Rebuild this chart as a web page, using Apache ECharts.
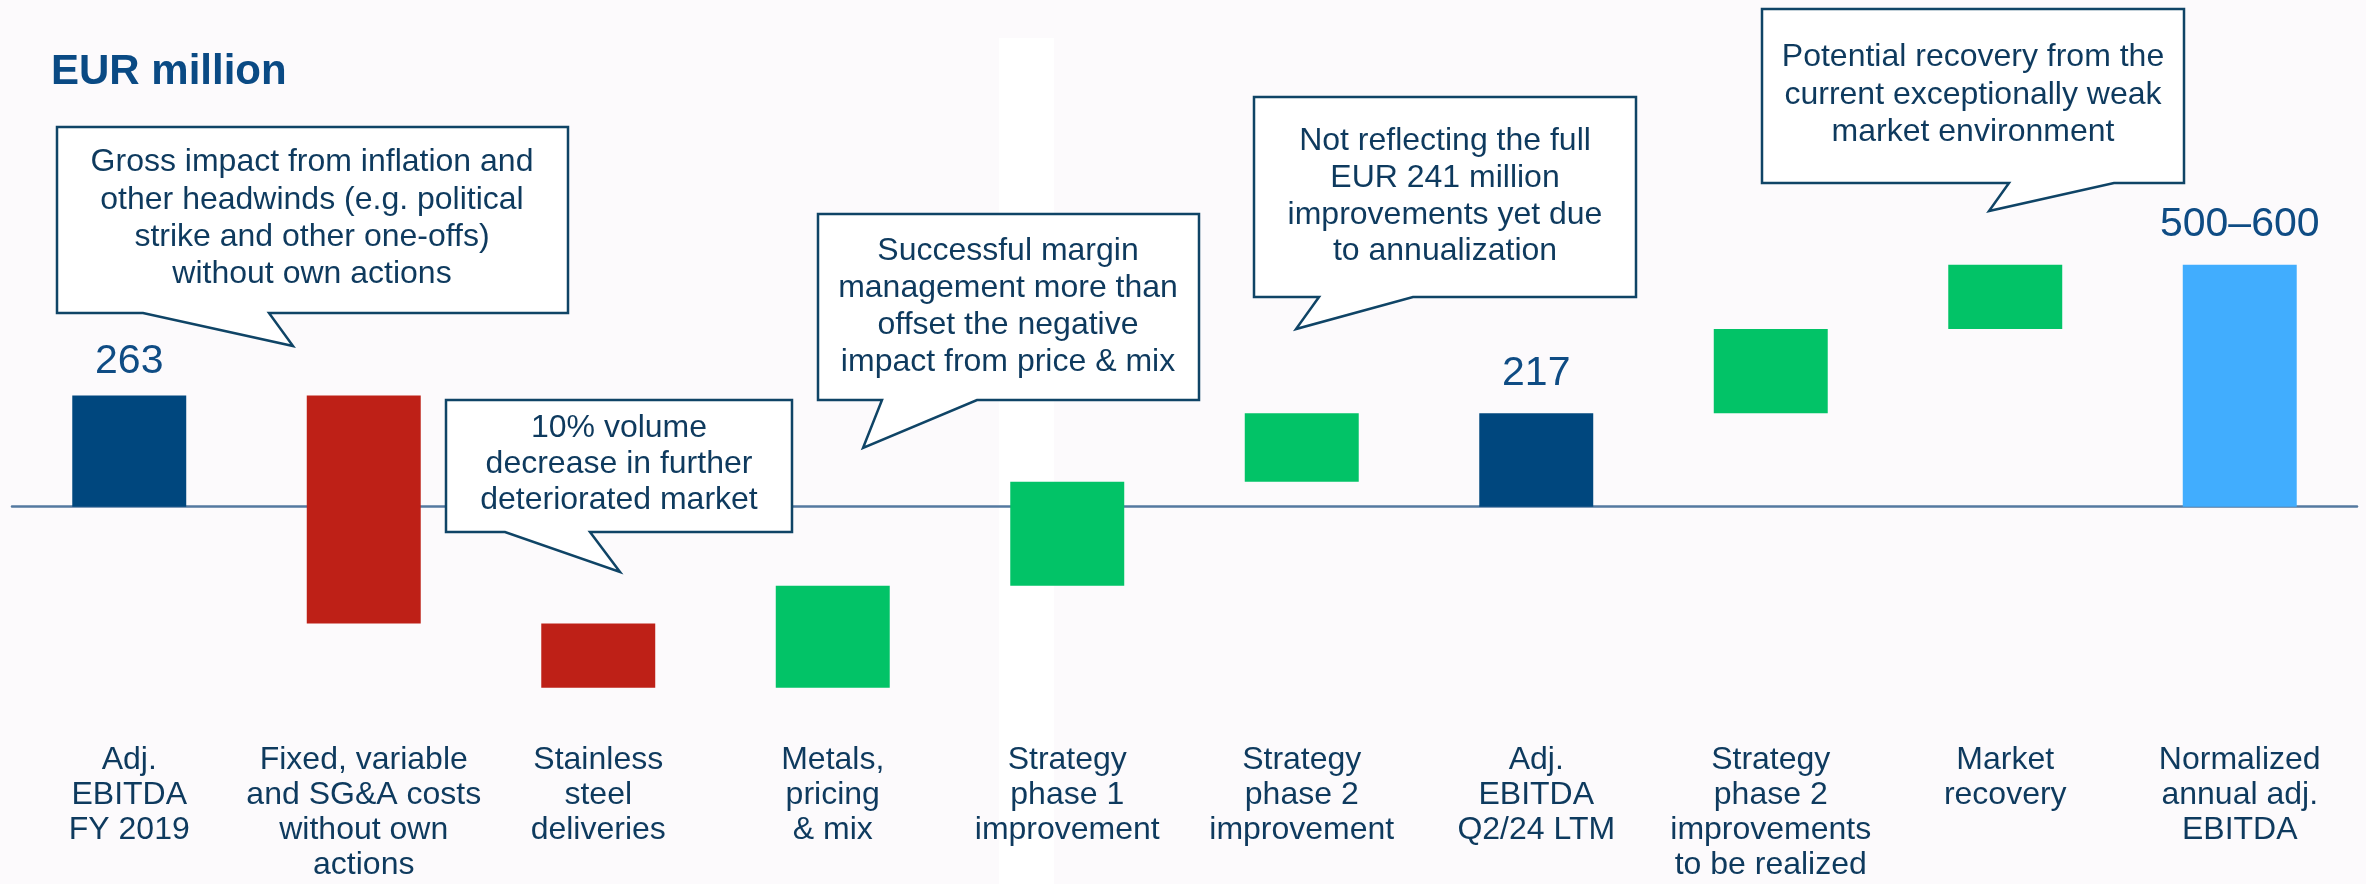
<!DOCTYPE html>
<html>
<head>
<meta charset="utf-8">
<script src="https://cdn.jsdelivr.net/npm/echarts@6/dist/echarts.min.js"></script>
<style>
html,body{margin:0;padding:0;background:#fcfafc;}
#chart{width:2366px;height:884px;}
</style>
</head>
<body>
<div id="chart"></div>
<script>
// ---- data ----
const categories = [
  'Adj.\nEBITDA\nFY 2019',
  'Fixed, variable\nand SG&A costs\nwithout own\nactions',
  'Stainless\nsteel\ndeliveries',
  'Metals,\npricing\n& mix',
  'Strategy\nphase 1\nimprovement',
  'Strategy\nphase 2\nimprovement',
  'Adj.\nEBITDA\nQ2/24 LTM',
  'Strategy\nphase 2\nimprovements\nto be realized',
  'Market\nrecovery',
  'Normalized\nannual adj.\nEBITDA'
];
const barLow  = [0, -276, -428, -428, -187,  59,   0, 221, 420,   0];
const barHigh = [263, 263, -276, -187,  59, 221, 221, 420, 572, 572];
const barKind = ['total','decrease','decrease','increase','increase','increase','total','increase','increase','target'];
const valueLabels = ['263','','','','','','217','','','500–600'];

const calloutTexts = [
  'Gross impact from inflation and\nother headwinds (e.g. political\nstrike and other one-offs)\nwithout own actions',
  '10% volume\ndecrease in further\ndeteriorated market',
  'Successful margin\nmanagement more than\noffset the negative\nimpact from price & mix',
  'Not reflecting the full\nEUR 241 million\nimprovements yet due\nto annualization',
  'Potential recovery from the\ncurrent exceptionally weak\nmarket environment'
];

// ---- styling / layout ----
const FONT = '"Liberation Sans", Arial, Helvetica, sans-serif';
const kindColor = {total:'#00477e', decrease:'#be2017', increase:'#02c367', target:'#41adfe'};
const textNavy = '#0e3a5e';
const valueBlue = '#0f4c84';
const boxStroke = '#0f4466';
const labelGapDefault = 40;
const labelGapOverride = {0:34};

// callout geometry: box [x0,y0,x1,y1], tail [leftBaseX, tipX, tipY, rightBaseX], text center x, first line top, line height
const callouts = [
  {box:[57,127,568,313], tail:[143,293,346,269], cx:312, ty:144, lh:37.3},
  {box:[446,400,792,532], tail:[505,620,572,590], cx:619, ty:410, lh:36},
  {box:[818,214,1199,400], tail:[882,863,448,977], cx:1008, ty:233, lh:37},
  {box:[1254,97,1636,297], tail:[1319,1296,329,1413], cx:1445, ty:123, lh:36.7},
  {box:[1762,9,2184,183], tail:[2009,1989,211,2114], cx:1973, ty:39, lh:37.2}
];

const graphics = [
  {type:'rect', z:-10, shape:{x:999, y:38, width:55, height:846}, style:{fill:'#ffffff'}, silent:true},
  {type:'text', left:51, top:51, style:{text:'EUR million', font:'bold 42px ' + FONT, fill:'#0a4a84'}}
];
callouts.forEach((c, i) => {
  const [x0,y0,x1,y1] = c.box;
  const [lb, tx, ty, rb] = c.tail;
  graphics.push({
    type:'polygon', z:50,
    shape:{points:[[x0,y0],[x1,y0],[x1,y1],[rb,y1],[tx,ty],[lb,y1],[x0,y1]]},
    style:{fill:'#ffffff', stroke:boxStroke, lineWidth:2.5, lineJoin:'miter'}
  });
  graphics.push({
    type:'text', z:51,
    style:{text:calloutTexts[i], x:c.cx, y:c.ty, align:'center', verticalAlign:'top',
      font:'32px ' + FONT, lineHeight:c.lh, fill:textNavy}
  });
});

const chart = echarts.init(document.getElementById('chart'));
chart.setOption({
  backgroundColor:'#fcfafc',
  animation:false,
  grid:{left:12, right:9, top:210.7, bottom:165.9, containLabel:false, outerBoundsMode:'none'},
  xAxis:[
    {type:'category', data:categories, boundaryGap:true,
      axisLine:{show:false, onZero:false}, axisTick:{show:false}, splitLine:{show:false},
      axisLabel:{interval:0, margin:24, color:textNavy, fontSize:32, lineHeight:35.3, fontFamily:FONT, align:'center'}},
    {type:'category', data:categories, boundaryGap:true, position:'bottom',
      axisLine:{show:true, onZero:true, lineStyle:{color:'#5479a0', width:2.5}},
      axisTick:{show:false}, axisLabel:{show:false}, splitLine:{show:false}}
  ],
  yAxis:{type:'value', min:-500, max:700, show:false, splitLine:{show:false}},
  graphic:graphics,
  series:[{
    type:'custom',
    xAxisIndex:0,
    z:10,
    data:barLow.map((lo, i) => [i, lo, barHigh[i]]),
    encode:{x:0, y:[1,2]},
    renderItem:function(params, api){
      const i = api.value(0);
      const pHi = api.coord([i, api.value(2)]);
      const pLo = api.coord([i, api.value(1)]);
      const w = api.size([1,0])[0] * 0.486;
      const children = [{
        type:'rect',
        shape:{x:pHi[0]-w/2, y:pHi[1], width:w, height:pLo[1]-pHi[1]},
        style:{fill:kindColor[barKind[i]]}
      }];
      if (valueLabels[i]) {
        const gap = (i in labelGapOverride) ? labelGapOverride[i] : labelGapDefault;
        children.push({
          type:'text',
          style:{text:valueLabels[i], x:pHi[0], y:pHi[1]-gap, align:'center', verticalAlign:'middle',
            font:'41px ' + FONT, fill:valueBlue}
        });
      }
      return {type:'group', children:children};
    }
  }]
});
</script>
</body>
</html>
